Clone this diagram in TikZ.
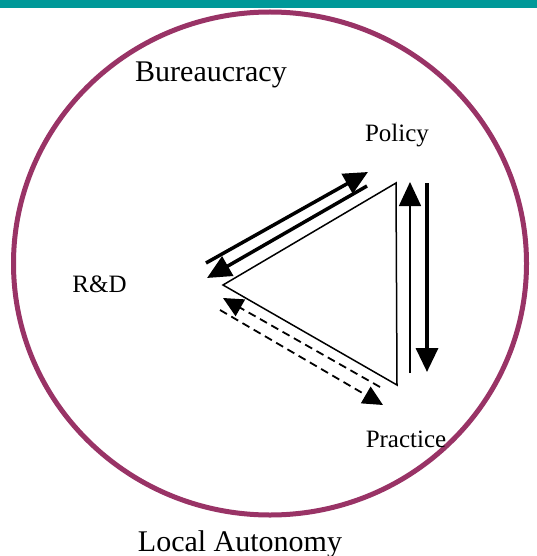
\documentclass[tikz,border=0pt]{standalone}
\usepackage{fontspec}
\setmainfont{Liberation Serif}
\usetikzlibrary{arrows.meta}
\definecolor{teal1}{HTML}{009999}
\definecolor{plum}{HTML}{993366}
\tikzset{
  lbl/.style={anchor=base, inner sep=0pt, font=\fontsize{25}{30}\selectfont},
  biglbl/.style={anchor=base, inner sep=0pt, font=\fontsize{30}{36}\selectfont},
  thickarr/.style={line width=3.5pt, -{Triangle[length=24pt,width=22pt]}},
  thinarr/.style={line width=1.5pt, -{Triangle[length=24pt,width=22pt]}},
  dasharr/.style={line width=1.8pt, dash pattern=on 8pt off 5pt, -{Triangle[length=20pt,width=19pt]}},
  edge/.style={line width=1.5pt, line join=miter}
}
\begin{document}
\begin{tikzpicture}[x=1pt,y=-1pt]
\useasboundingbox (0,0) rectangle (537,556);
\fill[teal1] (0,0) rectangle (537,8);
\draw[plum, line width=5pt] (270,263.5) ellipse [x radius=256.5, y radius=251.5];
\node[biglbl] (bur) at (211,82) {Bureaucracy};
\node[biglbl] (loc) at (240,551) {Local Autonomy};
\node[lbl] (pol) at (397,142) {Policy};
\node[lbl] (rd) at (99.5,292) {R\&D};
\node[lbl] (pra) at (406,447) {Practice};
\coordinate (L) at (223,285);
\coordinate (T) at (396,183);
\coordinate (B) at (397,385);
\draw[edge] (L) -- (T) -- (B) -- cycle;
% top-left arrows
\coordinate (a1) at (206,263);
\coordinate (a2) at (368,172);
\coordinate (b1) at (367,186);
\coordinate (b2) at (207,278);
\draw[thickarr] (a1) -- (a2);
\draw[thickarr] (b1) -- (b2);
% right vertical arrows
\coordinate (c1) at (410,373);
\coordinate (c2) at (410,182);
\coordinate (d1) at (427,183);
\coordinate (d2) at (427,372);
\draw[thinarr] (c1) -- (c2);
\draw[thickarr] (d1) -- (d2);
% dashed arrows
\coordinate (e1) at (380,387);
\coordinate (e2) at (223,298);
\coordinate (f1) at (220,310);
\coordinate (f2) at (383,405);
\draw[dasharr] (e1) -- (e2);
\draw[dasharr] (f1) -- (f2);
\end{tikzpicture}
\end{document}
